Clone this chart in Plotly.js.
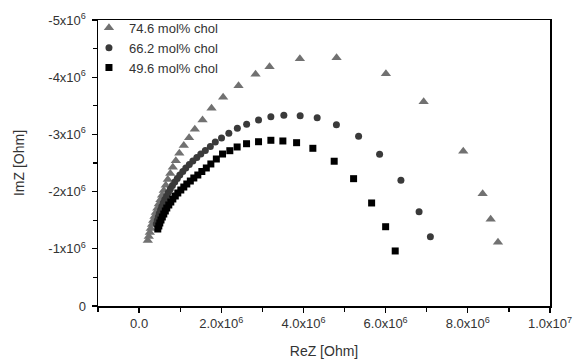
<!DOCTYPE html>
<html>
<head>
<meta charset="utf-8">
<script src="https://cdn.plot.ly/plotly-3.0.1.min.js"></script>
<style>
html,body{margin:0;padding:0;background:#fff;}
#chart{width:574px;height:360px;}
</style>
</head>
<body>
<div id="chart"></div>
<script>
// Series names
const seriesNames = ["74.6 mol% chol", "66.2 mol% chol", "49.6 mol% chol"];

// 74.6 mol% chol (triangles) – ReZ, ImZ in Ohm
const reZ746 = [0.212e6,0.236e6,0.261e6,0.285e6,0.314e6,0.343e6,0.375e6,0.407e6,0.443e6,0.480e6,0.519e6,0.560e6,0.601e6,0.650e6,0.699e6,0.760e6,0.821e6,0.894e6,0.979e6,1.088e6,1.217e6,1.356e6,1.544e6,1.763e6,2.045e6,2.420e6,2.834e6,3.175e6,3.913e6,4.806e6,6.007e6,6.925e6,7.889e6,8.361e6,8.556e6,8.734e6];
const imZ746 = [-1.145e6,-1.215e6,-1.285e6,-1.355e6,-1.425e6,-1.495e6,-1.565e6,-1.635e6,-1.708e6,-1.783e6,-1.858e6,-1.937e6,-2.019e6,-2.110e6,-2.210e6,-2.316e6,-2.425e6,-2.540e6,-2.670e6,-2.806e6,-2.942e6,-3.089e6,-3.252e6,-3.456e6,-3.649e6,-3.851e6,-4.051e6,-4.184e6,-4.323e6,-4.341e6,-4.061e6,-3.572e6,-2.706e6,-1.963e6,-1.516e6,-1.114e6];

// 66.2 mol% chol (circles)
const reZ662 = [0.419e6,0.443e6,0.467e6,0.492e6,0.523e6,0.553e6,0.589e6,0.626e6,0.670e6,0.713e6,0.760e6,0.811e6,0.869e6,0.930e6,0.991e6,1.064e6,1.137e6,1.222e6,1.308e6,1.405e6,1.502e6,1.612e6,1.734e6,1.855e6,2.006e6,2.184e6,2.391e6,2.617e6,2.907e6,3.207e6,3.523e6,3.920e6,4.334e6,4.802e6,5.342e6,5.853e6,6.372e6,6.814e6,7.089e6];
const imZ662 = [-1.434e6,-1.495e6,-1.556e6,-1.617e6,-1.678e6,-1.740e6,-1.801e6,-1.862e6,-1.923e6,-1.984e6,-2.045e6,-2.107e6,-2.168e6,-2.229e6,-2.290e6,-2.351e6,-2.413e6,-2.474e6,-2.535e6,-2.596e6,-2.657e6,-2.719e6,-2.789e6,-2.867e6,-2.937e6,-3.019e6,-3.107e6,-3.178e6,-3.252e6,-3.308e6,-3.336e6,-3.327e6,-3.292e6,-3.168e6,-2.967e6,-2.652e6,-2.198e6,-1.649e6,-1.212e6];

// 49.6 mol% chol (squares)
const reZ496 = [0.455e6,0.480e6,0.504e6,0.533e6,0.565e6,0.601e6,0.638e6,0.674e6,0.723e6,0.772e6,0.821e6,0.881e6,0.942e6,1.015e6,1.088e6,1.161e6,1.247e6,1.332e6,1.429e6,1.527e6,1.636e6,1.746e6,1.880e6,2.031e6,2.208e6,2.386e6,2.615e6,2.907e6,3.207e6,3.499e6,3.833e6,4.229e6,4.748e6,5.220e6,5.659e6,6.000e6,6.233e6];
const imZ496 = [-1.346e6,-1.399e6,-1.451e6,-1.503e6,-1.556e6,-1.608e6,-1.661e6,-1.713e6,-1.766e6,-1.818e6,-1.871e6,-1.923e6,-1.976e6,-2.028e6,-2.080e6,-2.133e6,-2.185e6,-2.238e6,-2.290e6,-2.351e6,-2.413e6,-2.483e6,-2.570e6,-2.657e6,-2.715e6,-2.780e6,-2.837e6,-2.872e6,-2.897e6,-2.885e6,-2.855e6,-2.757e6,-2.531e6,-2.226e6,-1.801e6,-1.386e6,-0.962e6];

// Tick values and labels
const xTickVals = [0, 2e6, 4e6, 6e6, 8e6, 1e7];
const xTickText = ["0.0", "2.0x10<sup>6</sup>", "4.0x10<sup>6</sup>", "6.0x10<sup>6</sup>", "8.0x10<sup>6</sup>", "1.0x10<sup>7</sup>"];
const yTickVals = [0, -1e6, -2e6, -3e6, -4e6, -5e6];
const yTickText = ["0", "-1x10<sup>6</sup>", "-2x10<sup>6</sup>", "-3x10<sup>6</sup>", "-4x10<sup>6</sup>", "-5x10<sup>6</sup>"];

const font = "Liberation Sans, Arial, sans-serif";

const traces = [
  {x: reZ746, y: imZ746, name: seriesNames[0], type: "scatter", mode: "markers",
   marker: {symbol: "triangle-up", size: 9, color: "#717171"}},
  {x: reZ662, y: imZ662, name: seriesNames[1], type: "scatter", mode: "markers",
   marker: {symbol: "circle", size: 7, color: "#3a3a3a"}},
  {x: reZ496, y: imZ496, name: seriesNames[2], type: "scatter", mode: "markers",
   marker: {symbol: "square", size: 7, color: "#000000"}}
];

const axisCommon = {
  showgrid: false, zeroline: false, showline: true, linecolor: "#000", linewidth: 1.5,
  mirror: true, ticks: "outside", ticklen: 5, tickwidth: 1.2, tickcolor: "#000",
  tickfont: {family: font, size: 13, color: "#333"}
};

const layout = {
  width: 574, height: 360,
  margin: {l: 98, r: 24, t: 20, b: 54},
  paper_bgcolor: "#fff", plot_bgcolor: "#fff",
  showlegend: true,
  legend: {x: -0.02, y: 1.025, xanchor: "left", yanchor: "top", bgcolor: "rgba(0,0,0,0)",
           font: {family: font, size: 13, color: "#333"}, tracegroupgap: 0},
  xaxis: Object.assign({}, axisCommon, {
    range: [-1e6, 1e7], tickmode: "array", tickvals: xTickVals, ticktext: xTickText,
    minor: {dtick: 1e6, tick0: 0, ticks: "outside", ticklen: 4, tickwidth: 1.2, tickcolor: "#000"},
    title: {text: "ReZ [Ohm]", font: {family: font, size: 14, color: "#333"}, standoff: 16}
  }),
  yaxis: Object.assign({}, axisCommon, {
    range: [0, -5e6], tickmode: "array", tickvals: yTickVals, ticktext: yTickText,
    ticklabelstandoff: 3,
    minor: {dtick: 5e5, tick0: 0, ticks: "outside", ticklen: 4, tickwidth: 1.2, tickcolor: "#000"},
    title: {text: "ImZ [Ohm]", font: {family: font, size: 14, color: "#333"}, standoff: 20}
  })
};

Plotly.newPlot("chart", traces, layout, {displayModeBar: false, staticPlot: true});
</script>
</body>
</html>
